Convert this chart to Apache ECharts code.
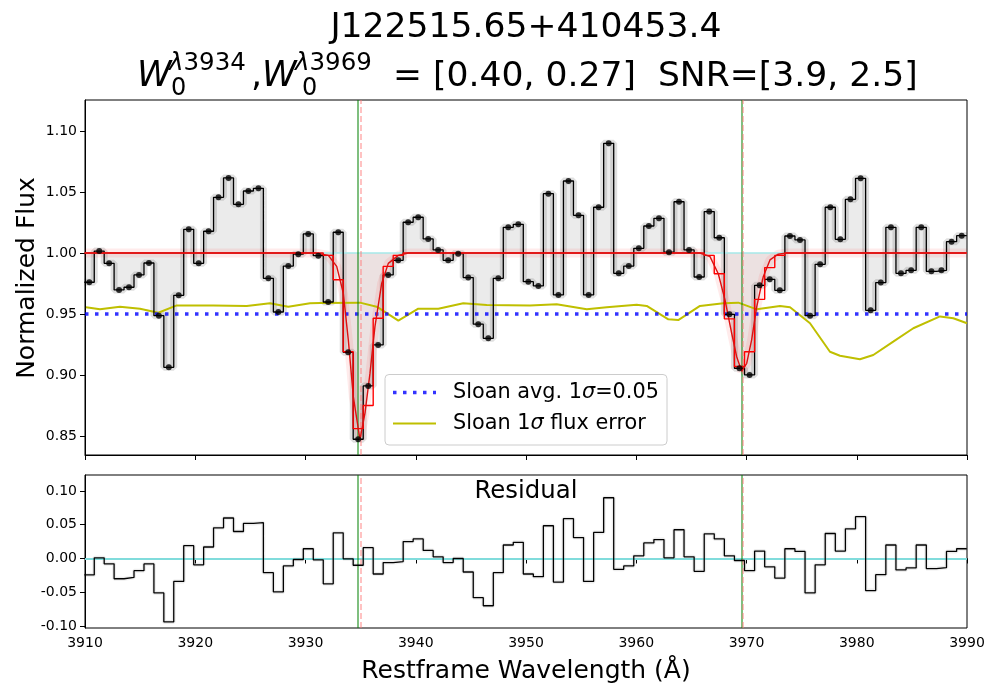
<!DOCTYPE html>
<html>
<head>
<meta charset="utf-8">
<script src="https://cdn.jsdelivr.net/npm/echarts@6/dist/echarts.min.js"></script>
<style>
  html, body { margin: 0; background: #fff; }
  #chart { width: 1000px; height: 700px; }
</style>
</head>
<body>
<div id="chart"></div>
<script>
// restframe wavelength of each spectrum pixel
var wave = [3910.39, 3911.29, 3912.19, 3913.09, 3913.99, 3914.90, 3915.80, 3916.70, 3917.60, 3918.50,
  3919.41, 3920.31, 3921.21, 3922.11, 3923.02, 3923.92, 3924.82, 3925.73, 3926.63, 3927.54,
  3928.44, 3929.35, 3930.25, 3931.16, 3932.06, 3932.97, 3933.87, 3934.78, 3935.69, 3936.59,
  3937.50, 3938.41, 3939.31, 3940.22, 3941.13, 3942.03, 3942.94, 3943.85, 3944.76, 3945.67,
  3946.58, 3947.49, 3948.39, 3949.30, 3950.21, 3951.12, 3952.03, 3952.94, 3953.85, 3954.76,
  3955.68, 3956.59, 3957.50, 3958.41, 3959.32, 3960.23, 3961.14, 3962.06, 3962.97, 3963.88,
  3964.79, 3965.71, 3966.62, 3967.53, 3968.45, 3969.36, 3970.28, 3971.19, 3972.11, 3973.02,
  3973.94, 3974.85, 3975.77, 3976.68, 3977.60, 3978.51, 3979.43, 3980.35, 3981.26, 3982.18,
  3983.10, 3984.01, 3984.93, 3985.85, 3986.77, 3987.68, 3988.60, 3989.52];

// normalized flux
var flux = [0.976, 1.0016, 0.9915, 0.9697, 0.9719, 0.982, 0.9918, 0.9486, 0.9063, 0.9653,
  1.0194, 0.9915, 1.0178, 1.0456, 1.0615, 1.0399, 1.0508, 1.053, 0.9792, 0.9516,
  0.9893, 0.999, 1.0156, 0.9978, 0.9598, 1.017, 0.9186, 0.8473, 0.891, 0.9246,
  0.982, 0.994, 1.0252, 1.0293, 1.0115, 1.0025, 0.994, 0.9994, 0.9798, 0.9416,
  0.930, 0.9792, 1.021, 1.0235, 0.9765, 0.973, 1.0486, 0.9656, 1.059, 1.0309,
  0.9656, 1.0375, 1.0899, 0.9833, 0.9893, 1.0038, 1.0221, 1.0284, 1.0006, 1.042,
  1.0025, 0.9803, 1.0339, 1.0125, 0.9497, 0.9055, 0.900, 0.9735, 0.9784, 0.9694,
  1.0139, 1.0107, 0.9486, 0.9907, 1.0375, 1.0112, 1.044, 1.0612, 0.953, 0.9757,
  1.021, 0.9833, 0.9858, 1.021, 0.985, 0.9858, 1.0093, 1.0142];

// model binned onto the pixels
var modelBinned = [1, 1, 1, 1, 1, 1, 1, 1, 1, 1,
  1, 1, 1, 1, 1, 1, 1, 1, 1, 1,
  1, 1, 1, 1, 0.998, 0.978, 0.919, 0.856, 0.875, 0.9465,
  0.989, 0.998, 1, 1, 1, 1, 1, 1, 1, 1,
  1, 1, 1, 1, 1, 1, 1, 1, 1, 1,
  1, 1, 1, 1, 1, 1, 1, 1, 1, 1,
  1, 1, 0.998, 0.983, 0.946, 0.907, 0.919, 0.962, 0.988, 0.998,
  1, 1, 1, 1, 1, 1, 1, 1, 1, 1,
  1, 1, 1, 1, 1, 1, 1, 1];

// flux minus model
var residual = [-0.0243, 0.001, -0.0079, -0.030, -0.028, -0.018, -0.008, -0.051, -0.094, -0.034,
  0.019, -0.0094, 0.017, 0.0455, 0.060, 0.040, 0.052, 0.053, -0.021, -0.0495,
  -0.011, -0.0015, 0.0144, -0.002, -0.0376, 0.038, -0.0005, -0.010, 0.016, -0.023,
  -0.006, -0.0045, 0.025, 0.029, 0.012, 0.0025, -0.006, 0.0, -0.020, -0.058,
  -0.070, -0.021, 0.020, 0.024, -0.023, -0.027, 0.0485, -0.035, 0.059, 0.031,
  -0.034, 0.0386, 0.090, -0.016, -0.011, 0.004, 0.023, 0.028, 0.001, 0.0426,
  0.0025, -0.019, 0.0366, 0.029, 0.004, -0.003, -0.018, 0.011, -0.0124, -0.029,
  0.0144, 0.0104, -0.051, -0.0094, 0.037, 0.011, 0.044, 0.062, -0.0475, -0.024,
  0.020, -0.017, -0.014, 0.020, -0.015, -0.0134, 0.0104, 0.0144];

// smooth model profile
var modelWave = [3910.0, 3930.86, 3932.07, 3932.83, 3933.43, 3933.88, 3934.34, 3934.94, 3935.40, 3935.85,
  3936.30, 3936.91, 3937.51, 3938.42, 3939.32,
  3965.78, 3966.69, 3967.44, 3968.05, 3968.66, 3969.11, 3969.56, 3970.02, 3970.47, 3970.93,
  3971.52, 3972.13, 3972.88, 3973.65, 3990.0];
var modelFlux = [1.0, 1.0, 0.998, 0.989, 0.967, 0.929, 0.882, 0.847, 0.869, 0.9015,
  0.9396, 0.975, 0.9915, 0.998, 1.0,
  1.0, 0.997, 0.983, 0.9615, 0.934, 0.915, 0.903, 0.9096, 0.929, 0.956,
  0.9806, 0.9943, 0.999, 1.0, 1.0];

// Sloan 1 sigma flux error, drawn about 1
var errWave = [3910.09, 3911.36, 3913.17, 3914.99, 3916.65, 3918.32, 3921.64, 3924.67, 3926.78, 3928.44,
  3930.41, 3931.32, 3934.94, 3936.46, 3938.42, 3940.23, 3942.05, 3944.31, 3946.44, 3950.36,
  3952.78, 3955.51, 3957.32, 3960.04, 3960.95, 3962.91, 3963.81, 3965.78, 3967.90, 3969.26,
  3970.93, 3973.04, 3973.95, 3975.76, 3977.57, 3978.48, 3980.29, 3981.50, 3983.31, 3985.13,
  3987.55, 3988.76, 3990.0];
var errFlux = [0.9555, 0.9538, 0.956, 0.9543, 0.951, 0.957, 0.957, 0.9566, 0.9588, 0.956,
  0.9588, 0.959, 0.9593, 0.956, 0.9445, 0.9543, 0.9543, 0.9588, 0.9574, 0.957,
  0.958, 0.9538, 0.9555, 0.9576, 0.9566, 0.9456, 0.945, 0.9566, 0.9588, 0.9593,
  0.9538, 0.9566, 0.9555, 0.9424, 0.919, 0.9158, 0.9129, 0.9164, 0.9273, 0.9383,
  0.948, 0.9465, 0.9424];

var lineRest = [3934.78, 3969.59];   // Ca II K, H
var lineFit = [3935.00, 3969.64];
var avgSigma = 0.05;
var fluxTicks = [0.85, 0.90, 0.95, 1.00, 1.05, 1.10];
var residTicks = [-0.10, -0.05, 0.00, 0.05, 0.10];

var FONT = '"DejaVu Sans", sans-serif';

// steps-mid: each pixel is a flat bin between the midpoints
function stepData(xs, ys) {
  var out = [];
  var n = xs.length;
  for (var i = 0; i < n; i++) {
    var left = i == 0 ? xs[0] - (xs[1] - xs[0]) / 2 : (xs[i - 1] + xs[i]) / 2;
    var right = i == n - 1 ? xs[n - 1] + (xs[n - 1] - xs[n - 2]) / 2 : (xs[i] + xs[i + 1]) / 2;
    out.push([left, ys[i]]);
    out.push([right, ys[i]]);
  }
  return out;
}
function pairs(xs, ys) {
  return xs.map(function (x, i) { return [x, ys[i]]; });
}

var vLines = [];
lineRest.forEach(function (x) {
  vLines.push({ xAxis: x, lineStyle: { color: 'rgba(0,128,0,0.5)', width: 2, type: 'solid' } });
});
lineFit.forEach(function (x) {
  vLines.push({ xAxis: x, lineStyle: { color: 'rgba(255,120,120,0.45)', width: 2, type: [6, 3] } });
});

var chart = echarts.init(document.getElementById('chart'));

var xAxisBase = {
  type: 'value', min: 3910, max: 3990, interval: 10,
  axisLine: { show: true, lineStyle: { color: '#000' } },
  axisTick: { show: true, length: 5, lineStyle: { color: '#000' } },
  splitLine: { show: false }
};
var tickFont = { color: '#000', fontSize: 14, fontFamily: FONT, margin: 8 };

function txt(x, y, text, size, extra) {
  var el = { type: 'text', x: x, y: y, z: 100,
    style: { text: text, fontSize: size, fontFamily: FONT, fill: '#000', textVerticalAlign: 'middle' } };
  if (extra) Object.assign(el.style, extra);
  return el;
}
// rich style for the italic greek letters
function italic(size) {
  return { i: { fontStyle: 'italic', fontSize: size, fontFamily: FONT, fill: '#000' },
           n: { fontStyle: 'normal', fontSize: size, fontFamily: FONT, fill: '#000' } };
}

var option = {
  animation: false,
  grid: [
    { left: 85, right: 33, top: 100, height: 355, show: true, borderColor: '#000', borderWidth: 1 },
    { left: 85, right: 33, top: 475, height: 153, show: true, borderColor: '#000', borderWidth: 1 }
  ],
  xAxis: [
    Object.assign({ gridIndex: 0, axisLabel: { show: false } }, xAxisBase),
    Object.assign({ gridIndex: 1, axisLabel: Object.assign({ show: true,
      formatter: function (v) { return String(v); } }, tickFont) }, xAxisBase)
  ],
  yAxis: [
    {
      type: 'value', gridIndex: 0, min: 0.8344, max: 1.1254,
      axisLine: { show: true, lineStyle: { color: '#000' } },
      axisTick: { show: true, length: 5, customValues: fluxTicks, lineStyle: { color: '#000' } },
      axisLabel: Object.assign({ customValues: fluxTicks,
        formatter: function (v) { return v.toFixed(2); } }, tickFont),
      splitLine: { show: false }
    },
    {
      type: 'value', gridIndex: 1, min: -0.103, max: 0.1237,
      axisLine: { show: true, lineStyle: { color: '#000' } },
      axisTick: { show: true, length: 5, customValues: residTicks, lineStyle: { color: '#000' } },
      axisLabel: Object.assign({ customValues: residTicks,
        formatter: function (v) { return v.toFixed(2); } }, tickFont),
      splitLine: { show: false }
    }
  ],
  series: [
    // grey shading between flux and continuum
    {
      type: 'line', xAxisIndex: 0, yAxisIndex: 0, data: stepData(wave, flux),
      symbol: 'none', lineStyle: { width: 7, color: 'rgba(0,0,0,0.12)' },
      areaStyle: { origin: 1, color: 'rgba(0,0,0,0.11)' }, z: 1
    },
    // model halo and pink fill
    {
      type: 'line', xAxisIndex: 0, yAxisIndex: 0, data: pairs(modelWave, modelFlux),
      symbol: 'none', lineStyle: { width: 9, color: 'rgba(255,0,0,0.08)' },
      areaStyle: { origin: 1, color: 'rgba(255,0,0,0.06)' }, z: 2
    },
    // continuum and average sigma
    {
      type: 'line', xAxisIndex: 0, yAxisIndex: 0, data: [],
      markLine: {
        silent: true, symbol: 'none', label: { show: false },
        data: [
          { yAxis: 1, lineStyle: { color: '#a6e8e8', width: 1.5, type: 'solid' } },
          { yAxis: 1 - avgSigma, lineStyle: { color: 'rgba(0,0,255,0.8)', width: 3.5, type: [3.5, 6.5] } }
        ]
      }, z: 2
    },
    {
      type: 'line', xAxisIndex: 0, yAxisIndex: 0, data: pairs(errWave, errFlux),
      symbol: 'none', lineStyle: { width: 2, color: '#bfbf00' }, z: 4
    },
    {
      type: 'line', xAxisIndex: 0, yAxisIndex: 0, data: stepData(wave, flux),
      symbol: 'none', lineStyle: { width: 1.3, color: '#000' }, z: 5,
      markLine: { silent: true, symbol: 'none', label: { show: false }, data: vLines }
    },
    {
      type: 'line', xAxisIndex: 0, yAxisIndex: 0, data: stepData(wave, modelBinned),
      symbol: 'none', lineStyle: { width: 1.4, color: '#ff0000' }, z: 6
    },
    {
      type: 'line', xAxisIndex: 0, yAxisIndex: 0, data: pairs(modelWave, modelFlux),
      symbol: 'none', lineStyle: { width: 1.4, color: '#dd1111' }, z: 6
    },
    {
      type: 'scatter', xAxisIndex: 0, yAxisIndex: 0, data: pairs(wave, flux),
      symbolSize: 6, itemStyle: { color: '#000' }, z: 7
    },
    // residual panel
    {
      type: 'line', xAxisIndex: 1, yAxisIndex: 1, data: [],
      markLine: {
        silent: true, symbol: 'none', label: { show: false },
        data: [{ yAxis: 0, lineStyle: { color: '#80dcdc', width: 2, type: 'solid' } }]
      }, z: 0
    },
    {
      type: 'line', xAxisIndex: 1, yAxisIndex: 1, data: stepData(wave, residual),
      symbol: 'none', lineStyle: { width: 4, color: 'rgba(0,0,0,0.07)' }, z: 1
    },
    {
      type: 'line', xAxisIndex: 1, yAxisIndex: 1, data: stepData(wave, residual),
      symbol: 'none', lineStyle: { width: 1.3, color: '#000' }, z: 5,
      markLine: { silent: true, symbol: 'none', label: { show: false }, data: vLines }
    }
  ],
  graphic: [
    txt(526, 28, 'J122515.65+410453.4', 34.6, { textAlign: 'center' }),
    txt(137, 77, 'W', 35, { fontStyle: 'italic' }),
    txt(169, 64, '{i|λ}{n|3934}', 24.5, { rich: italic(24.5) }),
    txt(171, 89, '0', 24),
    txt(251, 77, ',', 35),
    txt(262, 77, 'W', 35, { fontStyle: 'italic' }),
    txt(295, 64, '{i|λ}{n|3969}', 24.5, { rich: italic(24.5) }),
    txt(302, 89, '0', 24),
    txt(393, 77, '= [0.40, 0.27]  SNR=[3.9, 2.5]', 34.6),
    Object.assign(txt(27, 278, 'Normalized Flux', 25, { textAlign: 'center' }), { rotation: Math.PI / 2 }),
    txt(526, 671, 'Restframe Wavelength (Å)', 25, { textAlign: 'center' }),
    txt(526, 492, 'Residual', 24.4, { textAlign: 'center' }),
    // legend
    { type: 'rect', z: 100, shape: { x: 385, y: 374.5, width: 282, height: 70.5, r: 4 }, style: { fill: 'rgba(255,255,255,0.8)', stroke: '#cccccc', lineWidth: 1 } },
    { type: 'line', z: 101, shape: { x1: 393, y1: 392.5, x2: 436, y2: 392.5 }, style: { stroke: 'rgba(0,0,255,0.8)', lineWidth: 3.5, lineDash: [3.5, 6.5] } },
    { type: 'line', z: 101, shape: { x1: 393, y1: 423.5, x2: 436, y2: 423.5 }, style: { stroke: '#bfbf00', lineWidth: 2 } },
    Object.assign(txt(453, 392.5, '{n|Sloan avg. 1}{i|σ}{n|=0.05}', 20.8, { rich: italic(20.8) }), { z: 101 }),
    Object.assign(txt(453, 423.5, '{n|Sloan 1}{i|σ}{n| flux error}', 20.8, { rich: italic(20.8) }), { z: 101 })
  ]
};

chart.setOption(option);
</script>
</body>
</html>
